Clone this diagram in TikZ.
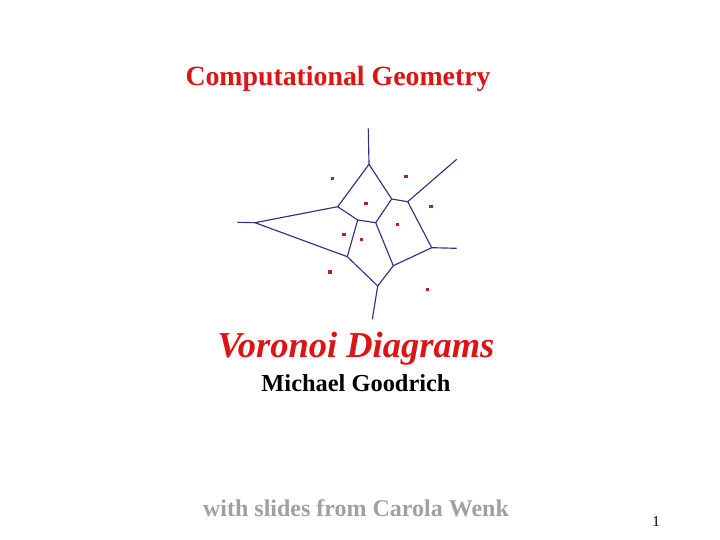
\documentclass[tikz,border=0pt]{standalone}
\usepackage{fontspec}
\setmainfont{Liberation Serif}
\definecolor{vred}{RGB}{220,20,20}
\definecolor{vblue}{RGB}{50,50,130}
\definecolor{vgray}{RGB}{160,160,160}
\definecolor{sitered}{RGB}{190,30,30}
\begin{document}
\begin{tikzpicture}[x=1pt,y=-1pt,
  edge/.style={draw=vblue,line width=1.15pt},
  site/.style={fill=sitered,minimum size=3.5pt,inner sep=0pt,shape=rectangle}]
\useasboundingbox (0,0) rectangle (720,540);
% titles
\node[text=vred,font=\bfseries\fontsize{27.8}{32}\selectfont] (title) at (338,79) {Computational Geometry};
\node[text=vred,font=\bfseries\itshape\fontsize{36.5}{42}\selectfont] (vd) at (356,349) {Voronoi Diagrams};
\node[font=\bfseries\fontsize{24.4}{28}\selectfont] (auth) at (356,383) {Michael Goodrich};
\node[text=vgray,font=\bfseries\fontsize{24}{28}\selectfont] (slides) at (356,508) {with slides from Carola Wenk};
\node[font=\fontsize{15}{18}\selectfont] (pg) at (656,522) {1};
% Voronoi vertices
\coordinate (T) at (368.3,128.3);
\coordinate (A) at (369,164.3);
\coordinate (B) at (391.7,199);
\coordinate (C) at (337.7,206.7);
\coordinate (D) at (407.7,201.7);
\coordinate (UR) at (456.7,159.3);
\coordinate (E) at (431.7,247.7);
\coordinate (R) at (456.7,248.3);
\coordinate (F) at (375.7,222.7);
\coordinate (G) at (357.7,220);
\coordinate (H) at (255,222.7);
\coordinate (L) at (237.3,222.3);
\coordinate (I) at (347.3,256.7);
\coordinate (J) at (377.7,286);
\coordinate (K) at (393.3,265.7);
\coordinate (Bt) at (372.3,319.3);
\draw[edge] (T) -- (A);
\draw[edge] (A) -- (B);
\draw[edge] (A) -- (C);
\draw[edge] (B) -- (D);
\draw[edge] (D) -- (UR);
\draw[edge] (D) -- (E);
\draw[edge] (E) -- (R);
\draw[edge] (B) -- (F);
\draw[edge] (F) -- (G);
\draw[edge] (G) -- (C);
\draw[edge] (C) -- (H);
\draw[edge] (H) -- (L);
\draw[edge] (H) -- (I);
\draw[edge] (I) -- (G);
\draw[edge] (I) -- (J);
\draw[edge] (J) -- (K);
\draw[edge] (K) -- (F);
\draw[edge] (K) -- (E);
\draw[edge] (J) -- (Bt);
% sites
\node[site] (s1) at (332.3,178.3) {};
\node[site] (s2) at (406,176.7) {};
\node[site] (s3) at (366,203.3) {};
\node[site] (s4) at (431,206.7) {};
\node[site] (s5) at (397.3,224.3) {};
\node[site] (s6) at (344,234.3) {};
\node[site] (s7) at (361.7,239.3) {};
\node[site] (s8) at (330,272) {};
\node[site] (s9) at (427.3,289.3) {};
\end{tikzpicture}
\end{document}
